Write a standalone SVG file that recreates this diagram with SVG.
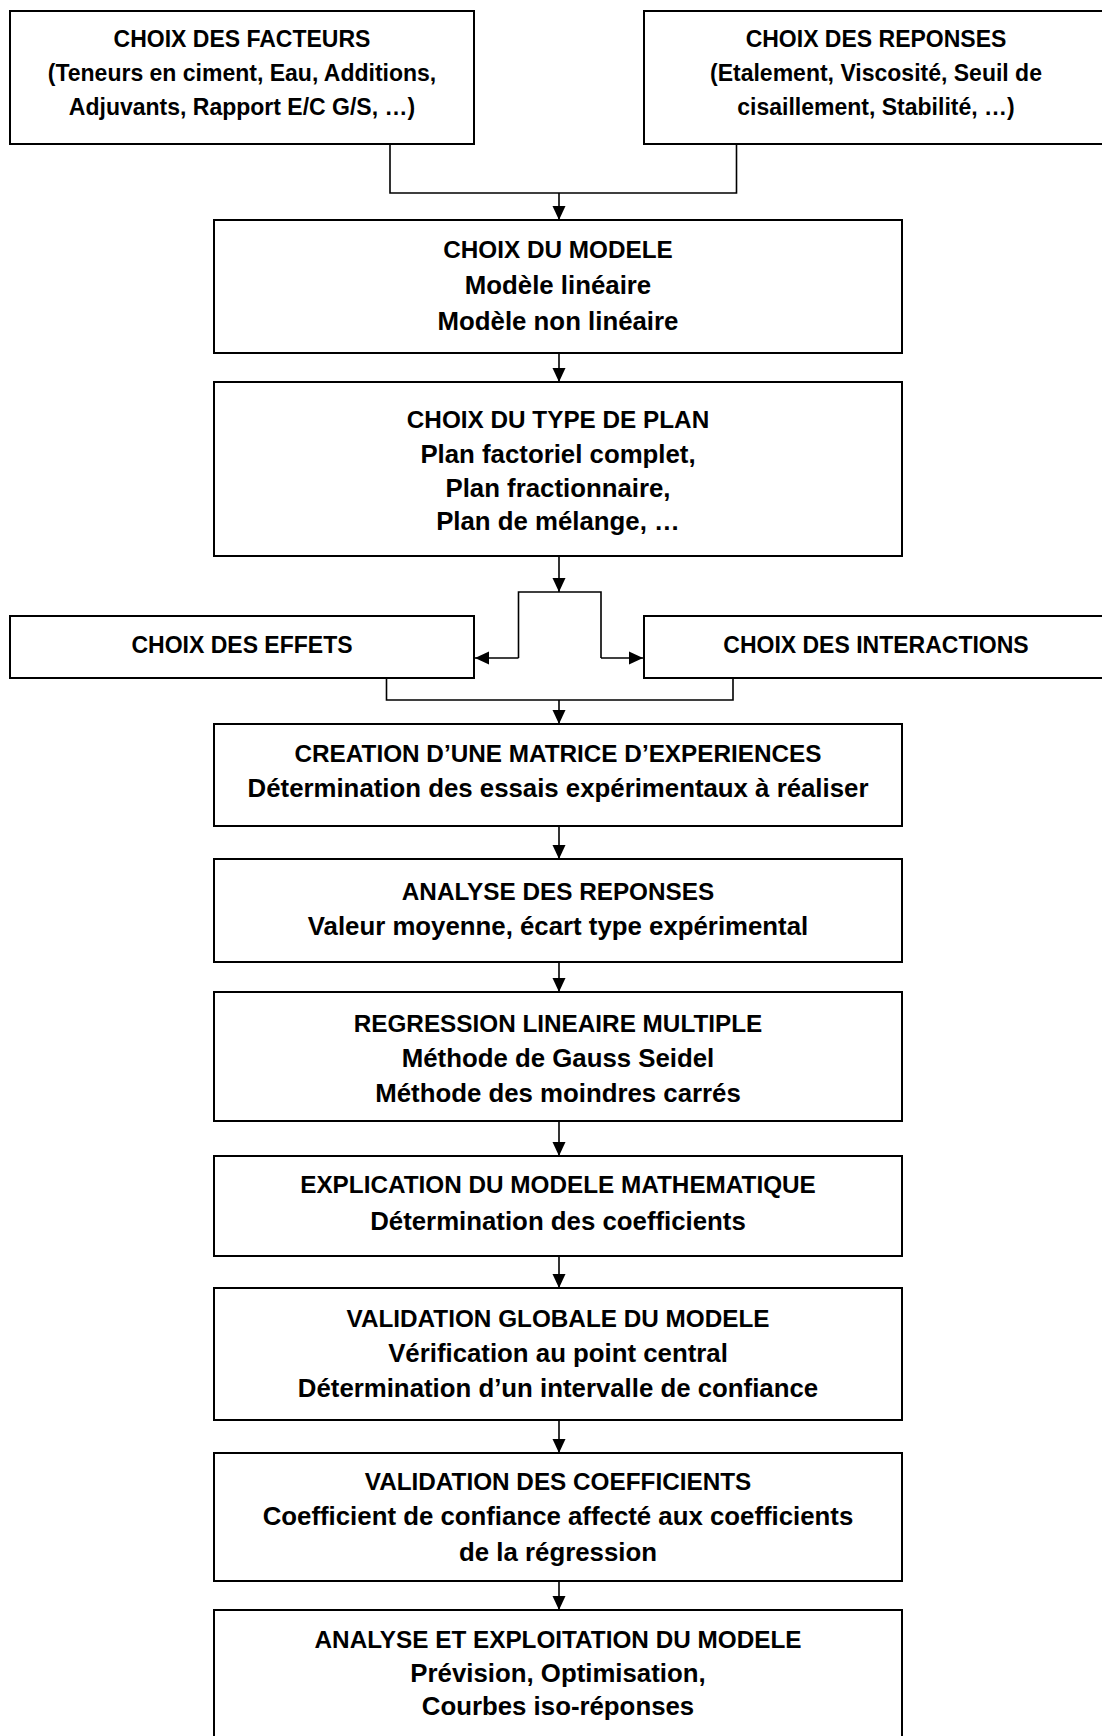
<svg xmlns="http://www.w3.org/2000/svg" width="1102" height="1736" viewBox="0 0 1102 1736">
  <style>
    .box { fill: #ffffff; stroke: #000000; stroke-width: 2; }
    .link { fill: none; stroke: #000000; stroke-width: 1.6; }
    text { font-family: "Liberation Sans", Arial, sans-serif; font-weight: bold; fill: #000000; text-anchor: middle; }
    .side { font-size: 23px; }
    .head { font-size: 24.3px; }
    .body { font-size: 25.8px; }
  </style>
  <defs>
    <marker id="arrow" viewBox="0 0 14 14" markerWidth="14" markerHeight="14" refX="14" refY="7" orient="auto" markerUnits="userSpaceOnUse">
      <path d="M0,0.5 L14,7 L0,13.5 z" fill="#000000"/>
    </marker>
  </defs>
  <rect x="0" y="0" width="1102" height="1736" fill="#ffffff"/>

  <!-- connectors -->
  <g id="connectors">
    <path class="link" d="M390,144 V193 H736.5 V144"/>
    <path class="link" d="M559,193 V220" marker-end="url(#arrow)"/>
    <path class="link" d="M559,353 V382" marker-end="url(#arrow)"/>
    <path class="link" d="M559,556 V592" marker-end="url(#arrow)"/>
    <path class="link" d="M518.5,658 V592 H601 V658"/>
    <path class="link" d="M518.5,658 H475" marker-end="url(#arrow)"/>
    <path class="link" d="M601,658 H643" marker-end="url(#arrow)"/>
    <path class="link" d="M386.5,678 V700 H733 V678"/>
    <path class="link" d="M559,700 V724" marker-end="url(#arrow)"/>
    <path class="link" d="M559,826 V859" marker-end="url(#arrow)"/>
    <path class="link" d="M559,962 V992" marker-end="url(#arrow)"/>
    <path class="link" d="M559,1121 V1156" marker-end="url(#arrow)"/>
    <path class="link" d="M559,1256 V1288" marker-end="url(#arrow)"/>
    <path class="link" d="M559,1420 V1453" marker-end="url(#arrow)"/>
    <path class="link" d="M559,1581 V1610" marker-end="url(#arrow)"/>
  </g>

  <!-- top row -->
  <g id="facteurs">
    <rect class="box" x="10" y="11" width="464" height="133"/>
    <text class="side" x="242" y="47">CHOIX DES FACTEURS</text>
    <text class="side" x="242" y="81">(Teneurs en ciment, Eau, Additions,</text>
    <text class="side" x="242" y="115">Adjuvants, Rapport E/C G/S, …)</text>
  </g>
  <g id="reponses">
    <rect class="box" x="644" y="11" width="464" height="133"/>
    <text class="side" x="876" y="47">CHOIX DES REPONSES</text>
    <text class="side" x="876" y="81">(Etalement, Viscosité, Seuil de</text>
    <text class="side" x="876" y="115">cisaillement, Stabilité, …)</text>
  </g>

  <g id="modele">
    <rect class="box" x="214" y="220" width="688" height="133"/>
    <text class="head" x="558" y="258">CHOIX DU MODELE</text>
    <text class="body" x="558" y="294">Modèle linéaire</text>
    <text class="body" x="558" y="330">Modèle non linéaire</text>
  </g>

  <g id="type-plan">
    <rect class="box" x="214" y="382" width="688" height="174"/>
    <text class="head" x="558" y="428">CHOIX DU TYPE DE PLAN</text>
    <text class="body" x="558" y="463">Plan factoriel complet,</text>
    <text class="body" x="558" y="497">Plan fractionnaire,</text>
    <text class="body" x="558" y="530">Plan de mélange, …</text>
  </g>

  <!-- middle row -->
  <g id="effets">
    <rect class="box" x="10" y="616" width="464" height="62"/>
    <text class="side" x="242" y="653">CHOIX DES EFFETS</text>
  </g>
  <g id="interactions">
    <rect class="box" x="644" y="616" width="464" height="62"/>
    <text class="side" x="876" y="653">CHOIX DES INTERACTIONS</text>
  </g>

  <g id="matrice">
    <rect class="box" x="214" y="724" width="688" height="102"/>
    <text class="head" x="558" y="762">CREATION D’UNE MATRICE D’EXPERIENCES</text>
    <text class="body" x="558" y="797">Détermination des essais expérimentaux à réaliser</text>
  </g>

  <g id="analyse-reponses">
    <rect class="box" x="214" y="859" width="688" height="103"/>
    <text class="head" x="558" y="900">ANALYSE DES REPONSES</text>
    <text class="body" x="558" y="935">Valeur moyenne, écart type expérimental</text>
  </g>

  <g id="regression">
    <rect class="box" x="214" y="992" width="688" height="129"/>
    <text class="head" x="558" y="1032">REGRESSION LINEAIRE MULTIPLE</text>
    <text class="body" x="558" y="1067">Méthode de Gauss Seidel</text>
    <text class="body" x="558" y="1102">Méthode des moindres carrés</text>
  </g>

  <g id="explication">
    <rect class="box" x="214" y="1156" width="688" height="100"/>
    <text class="head" x="558" y="1193">EXPLICATION DU MODELE MATHEMATIQUE</text>
    <text class="body" x="558" y="1230">Détermination des coefficients</text>
  </g>

  <g id="validation-globale">
    <rect class="box" x="214" y="1288" width="688" height="132"/>
    <text class="head" x="558" y="1327">VALIDATION GLOBALE DU MODELE</text>
    <text class="body" x="558" y="1362">Vérification au point central</text>
    <text class="body" x="558" y="1397">Détermination d’un intervalle de confiance</text>
  </g>

  <g id="validation-coefficients">
    <rect class="box" x="214" y="1453" width="688" height="128"/>
    <text class="head" x="558" y="1490">VALIDATION DES COEFFICIENTS</text>
    <text class="body" x="558" y="1525">Coefficient de confiance affecté aux coefficients</text>
    <text class="body" x="558" y="1561">de la régression</text>
  </g>

  <g id="exploitation">
    <rect class="box" x="214" y="1610" width="688" height="128"/>
    <text class="head" x="558" y="1648">ANALYSE ET EXPLOITATION DU MODELE</text>
    <text class="body" x="558" y="1682">Prévision, Optimisation,</text>
    <text class="body" x="558" y="1715">Courbes iso-réponses</text>
  </g>
</svg>
